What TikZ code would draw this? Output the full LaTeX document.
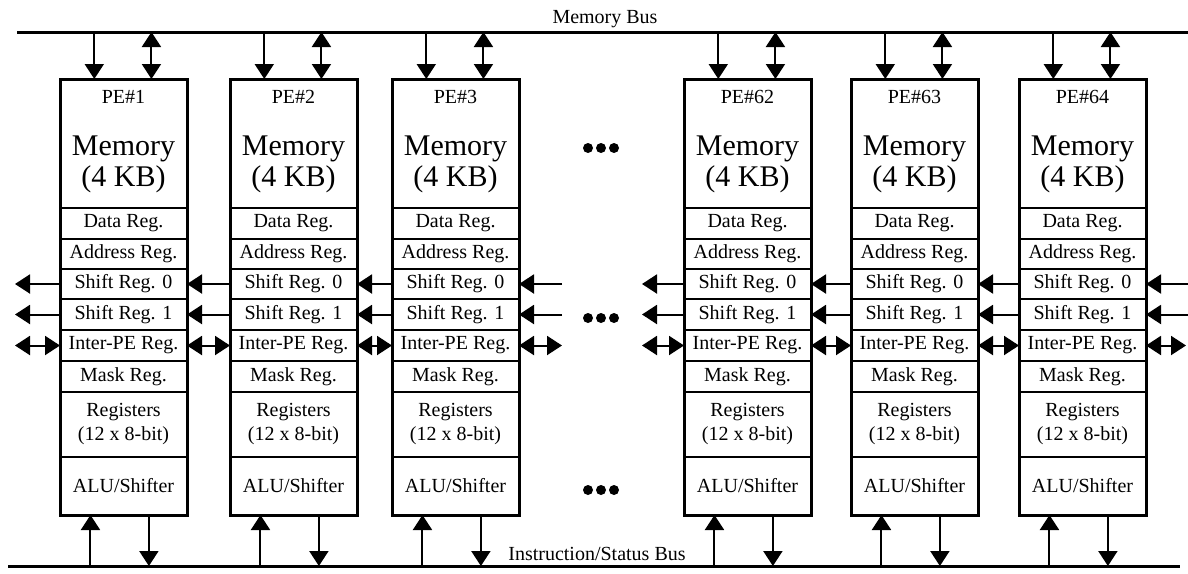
\documentclass[tikz,border=0pt]{standalone}
\usepackage{fontspec}
\setmainfont{Liberation Serif}
\usetikzlibrary{arrows.meta,positioning,calc}
\newcommand{\regfont}{\fontsize{20}{24}\selectfont}
\newcommand{\memfont}{\fontsize{30}{31}\selectfont}
\tikzset{
  regcell/.style={draw, line width=1.8pt, minimum width=127pt,
    minimum height=#1, inner sep=0pt, outer sep=0pt, anchor=north west,
    align=center, font=\regfont},
  regcell/.default={31pt},
  peframe/.style={draw, line width=3pt},
  busline/.style={line width=3pt},
}
\begin{document}
\begin{tikzpicture}[x=1pt, y=-1pt,
  oneway/.style={-{Triangle[length=15pt,width=19pt]}, line width=2pt},
  twoway/.style={{Triangle[length=15pt,width=19pt]}-{Triangle[length=15pt,width=19pt]}, line width=2pt},
  buslabel/.style={font=\regfont, anchor=base},
]
  \useasboundingbox (0,0) rectangle (1188,573);

  % buses
  \coordinate (mb-w) at (17,32);
  \coordinate (mb-e) at (1188,32);
  \coordinate (ib-w) at (8,566);
  \coordinate (ib-e) at (1180,566);
  \draw[busline] (mb-w) -- (mb-e);
  \draw[busline] (ib-w) -- (ib-e);
  \node[buslabel] (mb-lbl) at (605,23) {Memory Bus};
  \node[buslabel] (ib-lbl) at (597,560) {Instruction/Status Bus};

  % processing elements
  \foreach \x/\n in {60/1,230/2,392/3,684/62,851/63,1019/64} {
    \node[regcell=129pt] (pe\n-mem) at (\x,79) {};
    \node[regcell, below=0pt of pe\n-mem] (pe\n-data) {Data Reg.};
    \node[regcell=30pt, below=0pt of pe\n-data] (pe\n-addr) {Address Reg.};
    \node[regcell=30pt, below=0pt of pe\n-addr] (pe\n-sh0) {Shift Reg. 0};
    \node[regcell, below=0pt of pe\n-sh0] (pe\n-sh1) {Shift Reg. 1};
    \node[regcell, below=0pt of pe\n-sh1] (pe\n-ipe) {Inter-PE Reg.};
    \node[regcell, below=0pt of pe\n-ipe] (pe\n-mask) {Mask Reg.};
    \node[regcell=65pt, below=0pt of pe\n-mask] (pe\n-regs) {Registers\\(12 x 8-bit)};
    \node[regcell=58pt, below=0pt of pe\n-regs] (pe\n-alu) {ALU/Shifter};
    \draw[peframe] (pe\n-mem.north west) rectangle (pe\n-alu.south east);
    \node[font=\regfont] (pe\n-id) at (\x+63.5,97) {PE\#\n};
    \node[font=\memfont, align=center] (pe\n-memtxt) at (\x+63.5,164) {Memory\\(4 KB)};
    % bus ports
    \coordinate (pe\n-t1) at ($(pe\n-mem.north west)!0.27!(pe\n-mem.north east)$);
    \coordinate (pe\n-t2) at ($(pe\n-mem.north west)!0.72!(pe\n-mem.north east)$);
    \coordinate (pe\n-b1) at ($(pe\n-alu.south west)!0.24!(pe\n-alu.south east)$);
    \coordinate (pe\n-b2) at ($(pe\n-alu.south west)!0.70!(pe\n-alu.south east)$);
    \draw[oneway] (pe\n-t1 |- mb-w) -- (pe\n-t1);
    \draw[twoway] (pe\n-t2 |- mb-w) -- (pe\n-t2);
    \draw[oneway] (pe\n-b1 |- ib-w) -- (pe\n-b1);
    \draw[oneway] (pe\n-b2) -- (pe\n-b2 |- ib-w);
  }

  % links between neighbours
  \foreach \a/\b in {2/1,3/2,63/62,64/63} {
    \draw[oneway] (pe\a-sh0.west) -- (pe\b-sh0.east);
    \draw[oneway] (pe\a-sh1.west) -- (pe\b-sh1.east);
    \draw[twoway] (pe\a-ipe.west) -- (pe\b-ipe.east);
  }

  % open ends
  \coordinate (end-l) at (15,0);
  \coordinate (end-m1) at (562,0);
  \coordinate (end-m2) at (642,0);
  \coordinate (end-r) at (1188,0);
  \foreach \r in {sh0,sh1} {
    \draw[oneway] (pe1-\r.west) -- (pe1-\r.west -| end-l);
    \draw[oneway] (pe3-\r.east -| end-m1) -- (pe3-\r.east);
    \draw[oneway] (pe62-\r.west) -- (pe62-\r.west -| end-m2);
    \draw[oneway] (pe64-\r.east -| end-r) -- (pe64-\r.east);
  }
  \draw[twoway] (pe1-ipe.west) -- (pe1-ipe.west -| end-l);
  \draw[twoway] (pe3-ipe.east) -- (pe3-ipe.east -| end-m1);
  \draw[twoway] (pe62-ipe.west) -- (pe62-ipe.west -| end-m2);
  \draw[twoway] (pe64-ipe.east) -- ($(pe64-ipe.east -| end-r)+(-2,0)$);

  % ellipses
  \foreach \dy in {148,318,490}
    \foreach \dx in {-13,0,13}
      \fill (601+\dx,\dy) circle (5pt);
\end{tikzpicture}
\end{document}
